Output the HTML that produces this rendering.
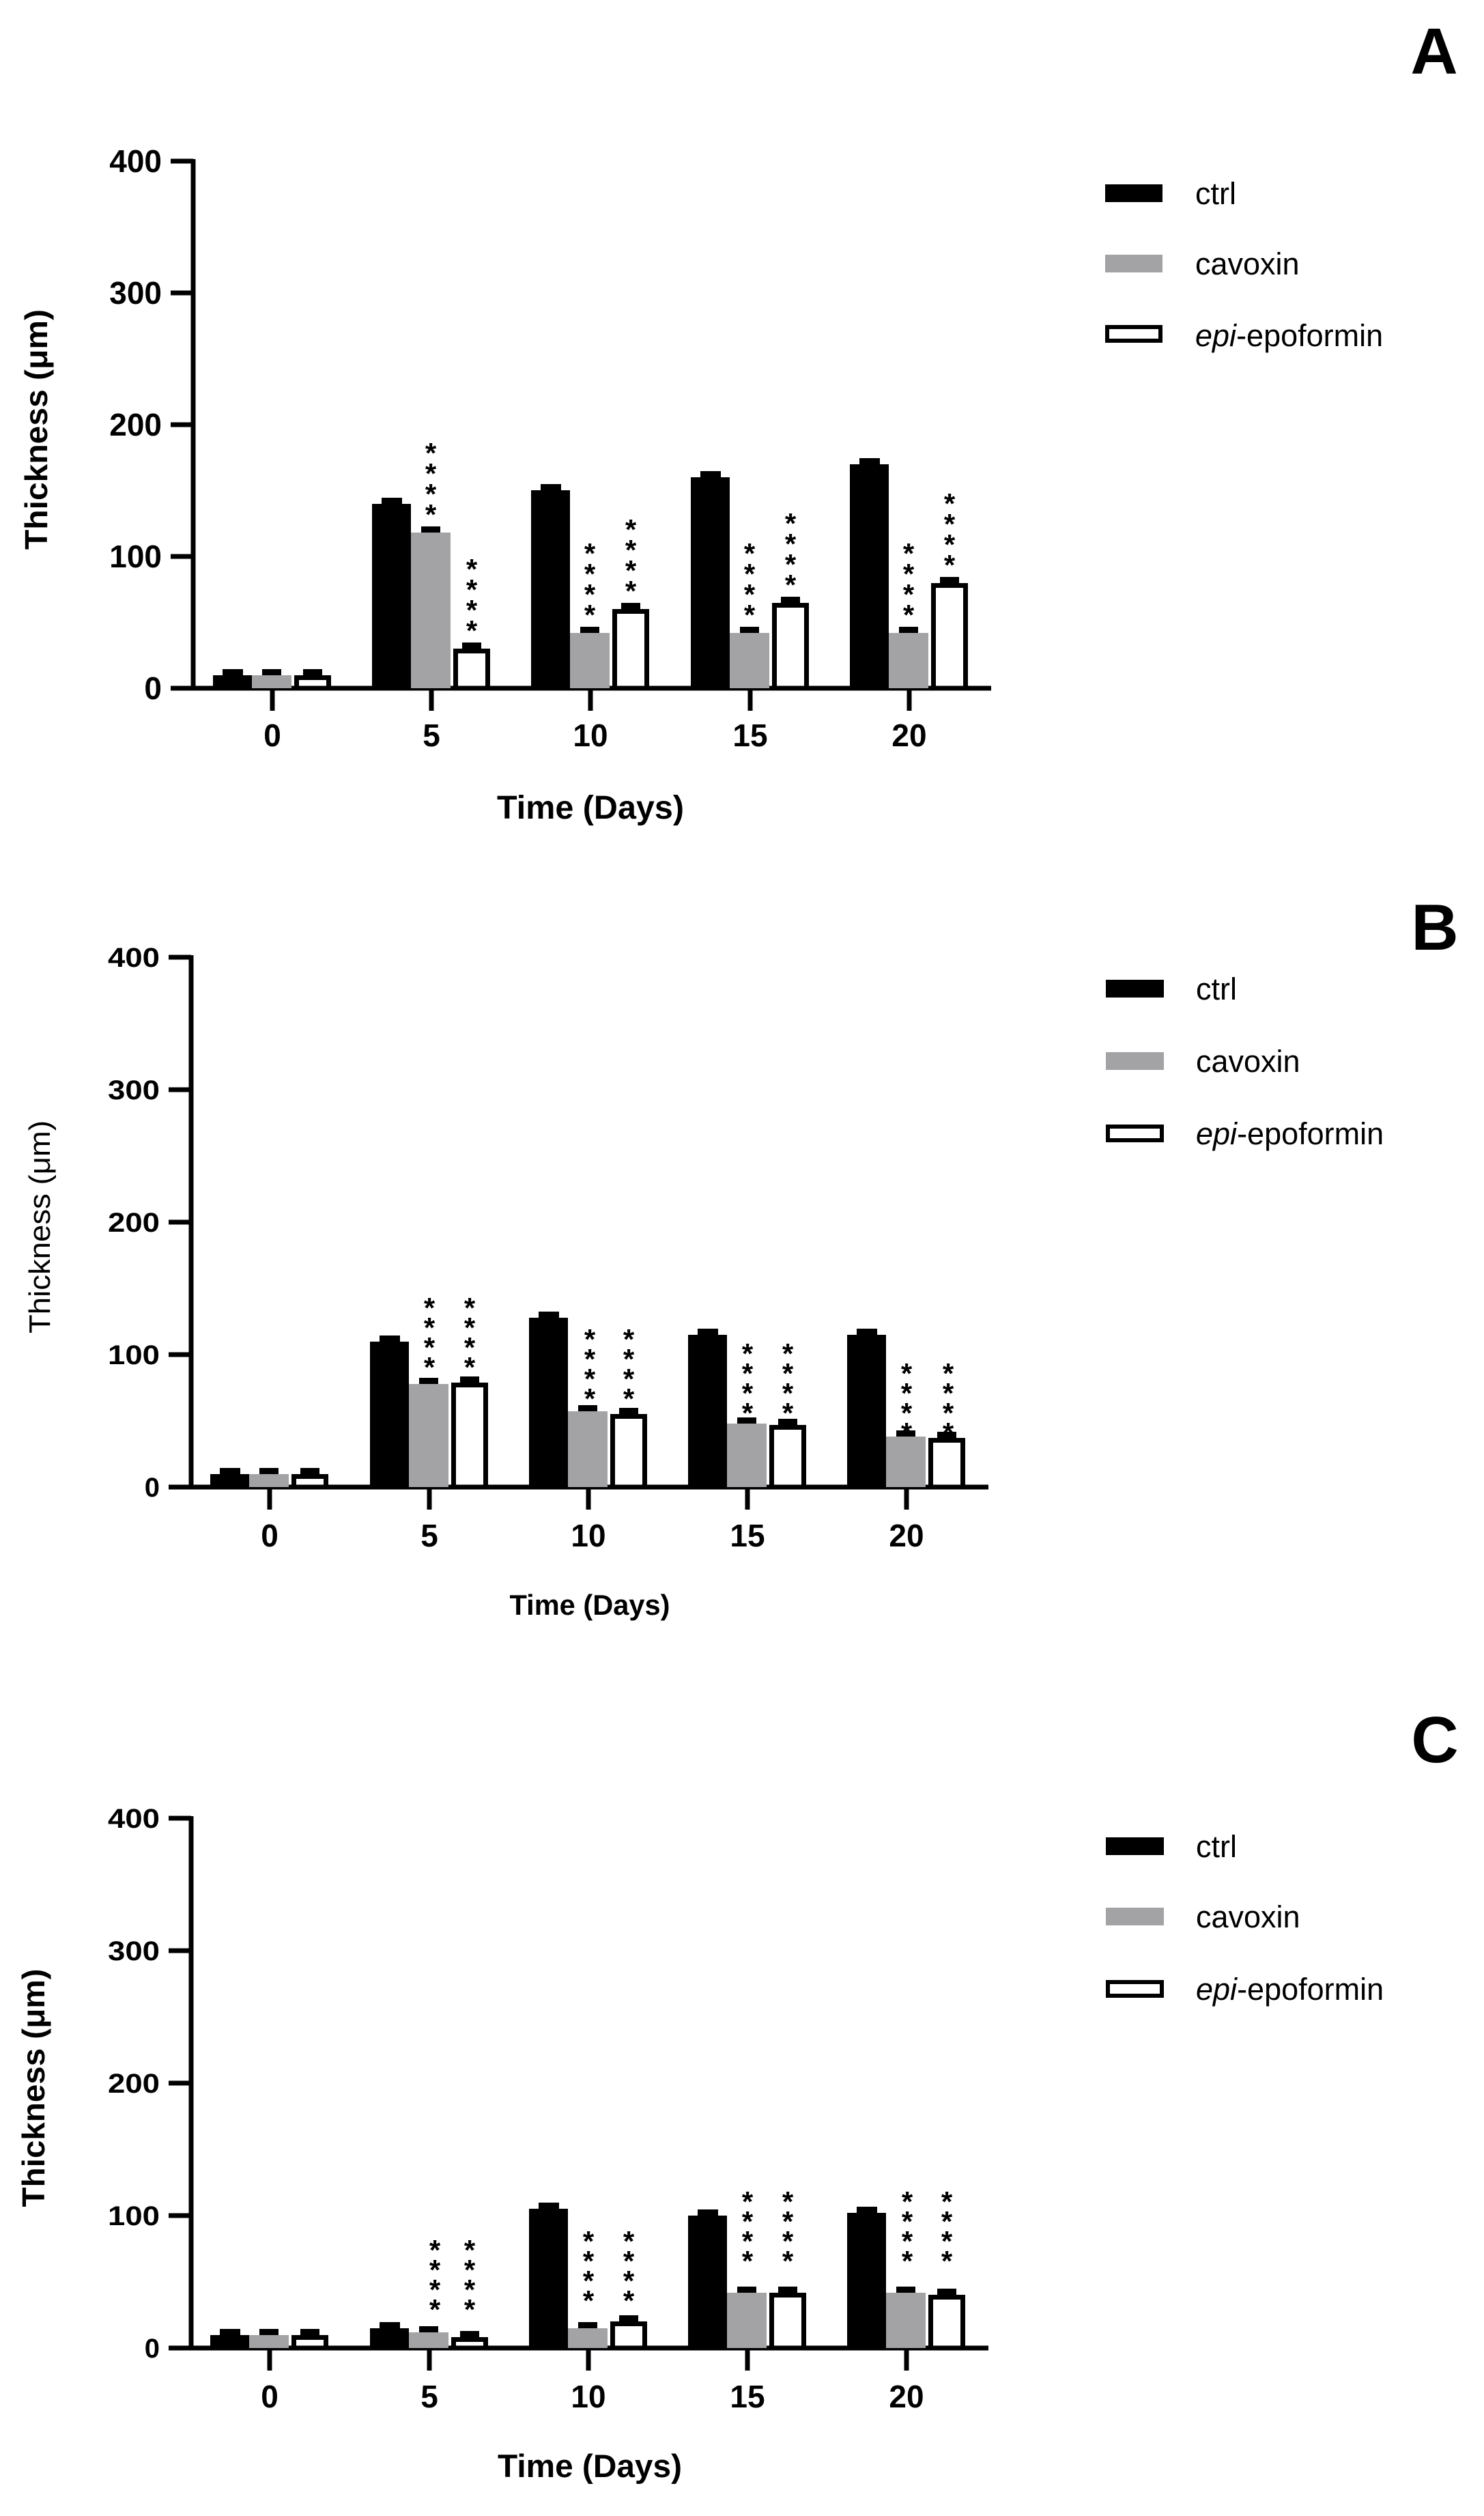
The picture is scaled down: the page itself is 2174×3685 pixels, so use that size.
<!DOCTYPE html>
<html><head><meta charset="utf-8">
<style>
html,body{margin:0;padding:0;background:#fff;}
svg{display:block;}
text{font-family:"Liberation Sans",Arial,sans-serif;fill:#000;}
.tk{font-weight:bold;font-size:46px;text-anchor:middle;}
.st{font-size:42px;font-weight:bold;text-anchor:middle;transform:translateY(4px);}
.lg{font-size:45px;}
.let{font-weight:bold;font-size:96px;text-anchor:middle;}
</style></head>
<body>
<svg width="2174" height="3685" viewBox="0 0 2174 3685" xmlns="http://www.w3.org/2000/svg">
<rect width="2174" height="3685" fill="#fff"/>

<!-- ================= PANEL A ================= -->
<g stroke="#000" stroke-width="7" fill="none">
<line x1="283" y1="233" x2="283" y2="1008"/>
<line x1="250" y1="1008" x2="1452" y2="1008"/>
<line x1="250" y1="236" x2="283" y2="236"/><line x1="250" y1="429" x2="283" y2="429"/><line x1="250" y1="622" x2="283" y2="622"/><line x1="250" y1="815" x2="283" y2="815"/>
<line x1="399" y1="1008" x2="399" y2="1041"/><line x1="632" y1="1008" x2="632" y2="1041"/><line x1="865" y1="1008" x2="865" y2="1041"/><line x1="1099" y1="1008" x2="1099" y2="1041"/><line x1="1332" y1="1008" x2="1332" y2="1041"/>
</g>
<g font-weight="bold" font-size="46" text-anchor="end">
<text x="237" y="252">400</text><text x="237" y="445">300</text><text x="237" y="638">200</text><text x="237" y="831">100</text><text x="237" y="1024">0</text>
</g>
<text class="tk" x="399" y="1093">0</text><text class="tk" x="632" y="1093">5</text><text class="tk" x="865" y="1093">10</text><text class="tk" x="1099" y="1093">15</text><text class="tk" x="1332" y="1093">20</text>
<text x="865" y="1199" font-weight="bold" font-size="48" text-anchor="middle" textLength="274" lengthAdjust="spacingAndGlyphs">Time (Days)</text>
<text transform="translate(69,629) rotate(-90)" font-weight="bold" font-size="46" text-anchor="middle" textLength="352" lengthAdjust="spacingAndGlyphs">Thickness (μm)</text>
<g fill="#000">
<rect x="312" y="989" width="57" height="19"/><rect x="545" y="738" width="57" height="270"/><rect x="778" y="718" width="57" height="290"/><rect x="1012" y="699" width="57" height="309"/><rect x="1245" y="680" width="57" height="328"/>
</g>
<g fill="#a3a3a6">
<rect x="369" y="989" width="58" height="19"/><rect x="602" y="780" width="58" height="228"/><rect x="835" y="927" width="58" height="81"/><rect x="1069" y="927" width="58" height="81"/><rect x="1302" y="927" width="58" height="81"/>
</g>
<g fill="#fff" stroke="#000" stroke-width="7">
<rect x="434.5" y="992.5" width="47" height="15.5"/><rect x="667.5" y="953.5" width="47" height="54.5"/><rect x="900.5" y="895.5" width="47" height="112.5"/><rect x="1134.5" y="886.5" width="47" height="121.5"/><rect x="1367.5" y="857.5" width="47" height="150.5"/>
</g>
<g fill="#000">
<rect x="326" y="980" width="30" height="9"/><rect x="559" y="729" width="30" height="9"/><rect x="792" y="709" width="30" height="9"/><rect x="1026" y="690" width="30" height="9"/><rect x="1259" y="671" width="30" height="9"/>
<rect x="384" y="980" width="28" height="9"/><rect x="617" y="771" width="28" height="9"/><rect x="850" y="918" width="28" height="9"/><rect x="1084" y="918" width="28" height="9"/><rect x="1317" y="918" width="28" height="9"/>
<rect x="444" y="980" width="28" height="9"/><rect x="677" y="941" width="28" height="9"/><rect x="910" y="883" width="28" height="9"/><rect x="1144" y="874" width="28" height="9"/><rect x="1377" y="845" width="28" height="9"/>
</g>
<text class="st" x="631 631 631 631" y="764 734 704 674">****</text>
<text class="st" x="691 691 691 691" y="934 904 874 844">****</text>
<text class="st" x="864 864 864 864" y="911 881 851 821">****</text>
<text class="st" x="924 924 924 924" y="876 846 816 786">****</text>
<text class="st" x="1098 1098 1098 1098" y="911 881 851 821">****</text>
<text class="st" x="1158 1158 1158 1158" y="867 837 807 777">****</text>
<text class="st" x="1331 1331 1331 1331" y="911 881 851 821">****</text>
<text class="st" x="1391 1391 1391 1391" y="838 808 778 748">****</text>
<rect x="1619" y="270" width="84" height="26" fill="#000"/>
<rect x="1619" y="373" width="84" height="26" fill="#a3a3a6"/>
<rect x="1622" y="479" width="78" height="20" fill="#fff" stroke="#000" stroke-width="6"/>
<text class="lg" x="1751" y="299">ctrl</text>
<text class="lg" x="1751" y="402">cavoxin</text>
<text class="lg" x="1751" y="507"><tspan font-style="italic">epi</tspan>-epoformin</text>
<text class="let" x="2101" y="108">A</text>

<!-- ================= PANEL B ================= -->
<g stroke="#000" stroke-width="7" fill="none">
<line x1="280" y1="1399" x2="280" y2="2178"/>
<line x1="247" y1="2178" x2="1448" y2="2178"/>
<line x1="247" y1="1402" x2="280" y2="1402"/><line x1="247" y1="1596" x2="280" y2="1596"/><line x1="247" y1="1790" x2="280" y2="1790"/><line x1="247" y1="1984" x2="280" y2="1984"/>
<line x1="395" y1="2178" x2="395" y2="2211"/><line x1="629" y1="2178" x2="629" y2="2211"/><line x1="862" y1="2178" x2="862" y2="2211"/><line x1="1095" y1="2178" x2="1095" y2="2211"/><line x1="1328" y1="2178" x2="1328" y2="2211"/>
</g>
<g font-weight="bold" font-size="40" text-anchor="end">
<text x="234" y="1416" textLength="76" lengthAdjust="spacingAndGlyphs">400</text><text x="234" y="1610" textLength="76" lengthAdjust="spacingAndGlyphs">300</text><text x="234" y="1804" textLength="76" lengthAdjust="spacingAndGlyphs">200</text><text x="234" y="1998" textLength="76" lengthAdjust="spacingAndGlyphs">100</text><text x="234" y="2192">0</text>
</g>
<text class="tk" x="395" y="2265">0</text><text class="tk" x="629" y="2265">5</text><text class="tk" x="862" y="2265">10</text><text class="tk" x="1095" y="2265">15</text><text class="tk" x="1328" y="2265">20</text>
<text x="864" y="2365" font-weight="bold" font-size="42" text-anchor="middle" textLength="235" lengthAdjust="spacingAndGlyphs">Time (Days)</text>
<text transform="translate(73,1797) rotate(-90)" font-size="44" text-anchor="middle" textLength="312" lengthAdjust="spacingAndGlyphs">Thickness (μm)</text>
<g fill="#000">
<rect x="308" y="2159" width="57" height="19"/><rect x="542" y="1965" width="57" height="213"/><rect x="775" y="1930" width="57" height="248"/><rect x="1008" y="1955" width="57" height="223"/><rect x="1241" y="1955" width="57" height="223"/>
</g>
<g fill="#a3a3a6">
<rect x="365" y="2159" width="58" height="19"/><rect x="599" y="2027" width="58" height="151"/><rect x="832" y="2067" width="58" height="111"/><rect x="1065" y="2085" width="58" height="93"/><rect x="1298" y="2104" width="58" height="74"/>
</g>
<g fill="#fff" stroke="#000" stroke-width="7">
<rect x="430.5" y="2162.5" width="47" height="15.5"/><rect x="664.5" y="2028.5" width="47" height="149.5"/><rect x="897.5" y="2074.5" width="47" height="103.5"/><rect x="1130.5" y="2090.5" width="47" height="87.5"/><rect x="1363.5" y="2109.5" width="47" height="68.5"/>
</g>
<g fill="#000">
<rect x="322" y="2150" width="30" height="9"/><rect x="556" y="1956" width="30" height="9"/><rect x="789" y="1921" width="30" height="9"/><rect x="1022" y="1946" width="30" height="9"/><rect x="1255" y="1946" width="30" height="9"/>
<rect x="380" y="2150" width="28" height="9"/><rect x="614" y="2018" width="28" height="9"/><rect x="847" y="2058" width="28" height="9"/><rect x="1080" y="2076" width="28" height="9"/><rect x="1313" y="2095" width="28" height="9"/>
<rect x="440" y="2150" width="28" height="9"/><rect x="674" y="2016" width="28" height="9"/><rect x="907" y="2062" width="28" height="9"/><rect x="1140" y="2078" width="28" height="9"/><rect x="1373" y="2097" width="28" height="9"/>
</g>
<text class="st" x="629 629 629 629" y="2013 1984 1955 1926">****</text>
<text class="st" x="688 688 688 688" y="2013 1984 1955 1926">****</text>
<text class="st" x="864 864 864 864" y="2059 2030 2001 1972">****</text>
<text class="st" x="921 921 921 921" y="2059 2030 2001 1972">****</text>
<text class="st" x="1095 1095 1095 1095" y="2080 2051 2022 1993">****</text>
<text class="st" x="1154 1154 1154 1154" y="2080 2051 2022 1993">****</text>
<text class="st" x="1328 1328 1328 1328" y="2109 2080 2051 2022">****</text>
<text class="st" x="1389 1389 1389 1389" y="2109 2080 2051 2022">****</text>
<rect x="1620" y="1435" width="85" height="26" fill="#000"/>
<rect x="1620" y="1541" width="85" height="26" fill="#a3a3a6"/>
<rect x="1623" y="1650" width="79" height="20" fill="#fff" stroke="#000" stroke-width="6"/>
<text class="lg" x="1752" y="1464">ctrl</text>
<text class="lg" x="1752" y="1570">cavoxin</text>
<text class="lg" x="1752" y="1676"><tspan font-style="italic">epi</tspan>-epoformin</text>
<text class="let" x="2102" y="1391">B</text>

<!-- ================= PANEL C ================= -->
<g stroke="#000" stroke-width="7" fill="none">
<line x1="280" y1="2660" x2="280" y2="3439"/>
<line x1="247" y1="3439" x2="1448" y2="3439"/>
<line x1="247" y1="2663" x2="280" y2="2663"/><line x1="247" y1="2857" x2="280" y2="2857"/><line x1="247" y1="3051" x2="280" y2="3051"/><line x1="247" y1="3245" x2="280" y2="3245"/>
<line x1="395" y1="3439" x2="395" y2="3472"/><line x1="629" y1="3439" x2="629" y2="3472"/><line x1="862" y1="3439" x2="862" y2="3472"/><line x1="1095" y1="3439" x2="1095" y2="3472"/><line x1="1328" y1="3439" x2="1328" y2="3472"/>
</g>
<g font-weight="bold" font-size="40" text-anchor="end">
<text x="234" y="2677" textLength="76" lengthAdjust="spacingAndGlyphs">400</text><text x="234" y="2871" textLength="76" lengthAdjust="spacingAndGlyphs">300</text><text x="234" y="3065" textLength="76" lengthAdjust="spacingAndGlyphs">200</text><text x="234" y="3259" textLength="76" lengthAdjust="spacingAndGlyphs">100</text><text x="234" y="3453">0</text>
</g>
<text class="tk" x="395" y="3526">0</text><text class="tk" x="629" y="3526">5</text><text class="tk" x="862" y="3526">10</text><text class="tk" x="1095" y="3526">15</text><text class="tk" x="1328" y="3526">20</text>
<text x="864" y="3628" font-weight="bold" font-size="47" text-anchor="middle" textLength="270" lengthAdjust="spacingAndGlyphs">Time (Days)</text>
<text transform="translate(65,3058) rotate(-90)" font-weight="bold" font-size="46" text-anchor="middle" textLength="349" lengthAdjust="spacingAndGlyphs">Thickness (μm)</text>
<g fill="#000">
<rect x="308" y="3420" width="57" height="19"/><rect x="542" y="3410" width="57" height="29"/><rect x="775" y="3235" width="57" height="204"/><rect x="1008" y="3245" width="57" height="194"/><rect x="1241" y="3241" width="57" height="198"/>
</g>
<g fill="#a3a3a6">
<rect x="365" y="3420" width="58" height="19"/><rect x="599" y="3416" width="58" height="23"/><rect x="832" y="3410" width="58" height="29"/><rect x="1065" y="3358" width="58" height="81"/><rect x="1298" y="3358" width="58" height="81"/>
</g>
<g fill="#fff" stroke="#000" stroke-width="7">
<rect x="430.5" y="3423.5" width="47" height="15.5"/><rect x="664.5" y="3426.5" width="47" height="12.5"/><rect x="897.5" y="3403.5" width="47" height="35.5"/><rect x="1130.5" y="3361.5" width="47" height="77.5"/><rect x="1363.5" y="3364.5" width="47" height="74.5"/>
</g>
<g fill="#000">
<rect x="322" y="3411" width="30" height="9"/><rect x="556" y="3401" width="30" height="9"/><rect x="789" y="3226" width="30" height="9"/><rect x="1022" y="3236" width="30" height="9"/><rect x="1255" y="3232" width="30" height="9"/>
<rect x="380" y="3411" width="28" height="9"/><rect x="614" y="3407" width="28" height="9"/><rect x="847" y="3401" width="28" height="9"/><rect x="1080" y="3349" width="28" height="9"/><rect x="1313" y="3349" width="28" height="9"/>
<rect x="440" y="3411" width="28" height="9"/><rect x="674" y="3414" width="28" height="9"/><rect x="907" y="3391" width="28" height="9"/><rect x="1140" y="3349" width="28" height="9"/><rect x="1373" y="3352" width="28" height="9"/>
</g>
<text class="st" x="637 637 637 637" y="3393 3364 3335 3306">****</text>
<text class="st" x="688 688 688 688" y="3393 3364 3335 3306">****</text>
<text class="st" x="862 862 862 862" y="3380 3351 3322 3293">****</text>
<text class="st" x="921 921 921 921" y="3380 3351 3322 3293">****</text>
<text class="st" x="1095 1095 1095 1095" y="3322 3293 3264 3235">****</text>
<text class="st" x="1154 1154 1154 1154" y="3322 3293 3264 3235">****</text>
<text class="st" x="1329 1329 1329 1329" y="3322 3293 3264 3235">****</text>
<text class="st" x="1387 1387 1387 1387" y="3322 3293 3264 3235">****</text>
<rect x="1620" y="2691" width="85" height="26" fill="#000"/>
<rect x="1620" y="2794" width="85" height="26" fill="#a3a3a6"/>
<rect x="1623" y="2903" width="79" height="20" fill="#fff" stroke="#000" stroke-width="6"/>
<text class="lg" x="1752" y="2720">ctrl</text>
<text class="lg" x="1752" y="2823">cavoxin</text>
<text class="lg" x="1752" y="2929"><tspan font-style="italic">epi</tspan>-epoformin</text>
<text class="let" x="2102" y="2581">C</text>
</svg>
</body></html>
